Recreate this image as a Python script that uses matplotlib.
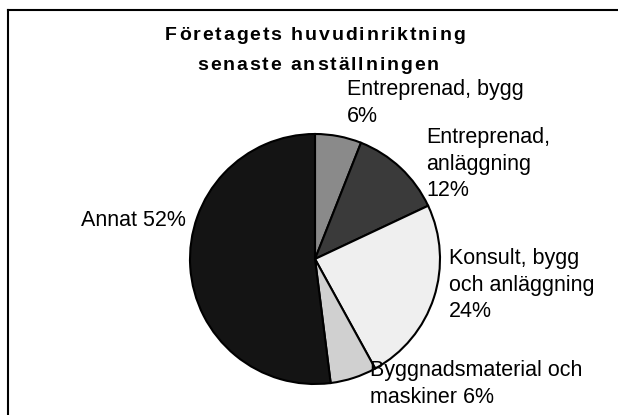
import matplotlib
matplotlib.use("Agg")
import matplotlib.pyplot as plt
from matplotlib.lines import Line2D

# Data
categories = [
    "Entreprenad, bygg",
    "Entreprenad,\nanläggning",
    "Konsult, bygg\noch anläggning",
    "Byggnadsmaterial och\nmaskiner",
    "Annat",
]
shares = [6, 12, 24, 6, 52]
value_breaks = ["\n", "\n", "\n", " ", " "]
title_lines = ["Företagets huvudinriktning", "senaste anställningen"]

W, H = 618, 415
plt.rcParams["font.family"] = ["Liberation Sans", "DejaVu Sans"]
fig = plt.figure(figsize=(W / 100, H / 100), dpi=100)
fig.patch.set_facecolor("white")


def fx(x):
    return x / W


def fy(y):
    return 1 - y / H


# Outer frame (top and left edges visible)
frame_kw = dict(color="black", linewidth=1.5, transform=fig.transFigure)
fig.add_artist(Line2D([fx(8), 1.02], [fy(10), fy(10)], **frame_kw))
fig.add_artist(Line2D([fx(8), fx(8)], [fy(10), -0.02], **frame_kw))

# Pie
cx, cy, r = 315, 259, 125
ax = fig.add_axes([fx(cx - r), fy(cy + r), 2 * r / W, 2 * r / H])
colors = ["#8a8a8a", "#3a3a3a", "#efefef", "#d0d0d0", "#141414"]
wedges, _ = ax.pie(
    shares,
    colors=colors,
    startangle=90,
    counterclock=False,
    radius=1,
    wedgeprops=dict(edgecolor="black", linewidth=1.5),
)
for w in wedges:
    w.set_clip_on(False)
ax.set_xlim(-1, 1)
ax.set_ylim(-1, 1)
ax.axis("off")

# Slice labels
label_pos = [(347, 103), (426, 164), (449, 285), (370, 384), (81, 220)]
for cat, s, brk, (x, y) in zip(categories, shares, value_breaks, label_pos):
    fig.text(fx(x), fy(y), f"{cat}{brk}{s}%", ha="left", va="center",
             fontsize=15.5, linespacing=1.36, color="black")

# Title with letter spacing
renderer = fig.canvas.get_renderer()


def text_width(s, **kw):
    t = fig.text(0, 0, s, **kw)
    w = t.get_window_extent(renderer).width
    t.remove()
    return w


def tracked_text(s, xc, y, tracking, **kw):
    base = text_width("||", **kw)
    widths = [text_width("|" + ch + "|", **kw) - base for ch in s]
    total = sum(widths) + tracking * (len(s) - 1)
    x = xc - total / 2
    for ch, w in zip(s, widths):
        fig.text(fx(x), fy(y), ch, ha="left", va="center", **kw)
        x += w + tracking


title_kw = dict(fontsize=14, fontweight="bold", color="black")
tracked_text(title_lines[0], 315, 35, 1.9, **title_kw)
tracked_text(title_lines[1], 318, 65, 1.9, **title_kw)

fig.savefig("out.png", dpi=100)
